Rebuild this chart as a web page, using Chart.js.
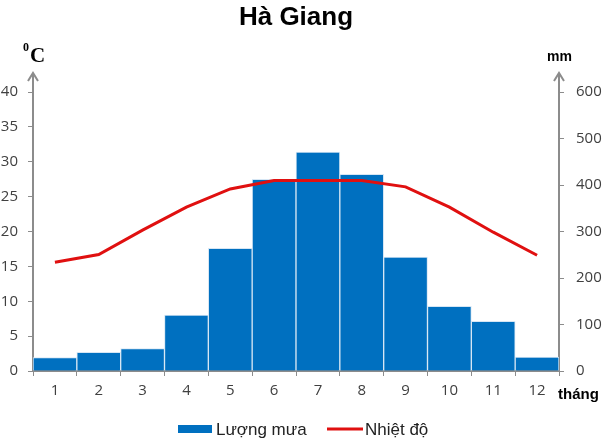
<!DOCTYPE html>
<html>
<head>
<meta charset="utf-8">
<script src="https://cdn.jsdelivr.net/npm/chart.js@4.4.0/dist/chart.umd.min.js"></script>
<style>
  html, body { margin: 0; padding: 0; background: #fff; }
  #wrap { width: 603px; height: 439px; position: relative; }
</style>
</head>
<body>
<div id="wrap"><canvas id="myChart" width="603" height="439"></canvas></div>
<script>
// du lieu doc tu hinh
const thang = ["1", "2", "3", "4", "5", "6", "7", "8", "9", "10", "11", "12"];
const luongMua = [29, 40, 48, 120, 264, 412, 471, 423, 245, 139, 107, 30];
const nhietDo = [15.6, 16.7, 20.2, 23.5, 26.1, 27.3, 27.3, 27.3, 26.4, 23.5, 19.9, 16.6];
const tickNhiet = [0, 5, 10, 15, 20, 25, 30, 35, 40];
const tickMua = [0, 100, 200, 300, 400, 500, 600];

const mauCot = "#0070C0";
const mauDuong = "#E01010";
const mauTruc = "#8c8c8c";
const mauChu = "#404040";
const font = "'Open Sans', 'Liberation Sans', sans-serif";

// ve tieu de, don vi, mui ten va chu thich
const trangTri = {
  id: "trangTri",
  afterDraw(chart) {
    const ctx = chart.ctx;
    const a = chart.chartArea;
    ctx.save();
    ctx.fillStyle = "#000";
    ctx.textAlign = "center";
    ctx.textBaseline = "alphabetic";
    ctx.font = "bold 26px 'Liberation Sans', Arial, sans-serif";
    ctx.fillText("Hà Giang", 296, 25);

    // don vi
    ctx.textAlign = "left";
    ctx.font = "bold 12px 'Liberation Serif', serif";
    ctx.fillText("0", 23, 51);
    ctx.font = "bold 21px 'Liberation Serif', serif";
    ctx.fillText("C", 30, 62);
    ctx.font = "bold 14px 'Liberation Sans', sans-serif";
    ctx.fillText("mm", 547, 61);
    ctx.font = "bold 15px 'Liberation Sans', sans-serif";
    ctx.fillText("tháng", 558, 399);

    // mui ten tren truc
    ctx.strokeStyle = mauTruc;
    ctx.lineWidth = 2;
    [a.left, a.right].forEach((x) => {
      ctx.beginPath();
      ctx.moveTo(x, a.top);
      ctx.lineTo(x, 73);
      ctx.stroke();
      ctx.beginPath();
      ctx.moveTo(x - 5, 81);
      ctx.lineTo(x, 73);
      ctx.lineTo(x + 5, 81);
      ctx.stroke();
    });

    // chu thich
    ctx.fillStyle = mauCot;
    ctx.fillRect(178, 425, 34, 8);
    ctx.strokeStyle = mauDuong;
    ctx.lineWidth = 3;
    ctx.beginPath();
    ctx.moveTo(327, 429);
    ctx.lineTo(363, 429);
    ctx.stroke();
    ctx.fillStyle = "#222";
    ctx.font = "17px 'Liberation Sans', Arial, sans-serif";
    ctx.textBaseline = "middle";
    ctx.fillText("Lượng mưa", 216, 430);
    ctx.fillText("Nhiệt độ", 365, 430);
    ctx.restore();
  },
};

const ctx = document.getElementById("myChart").getContext("2d");
new Chart(ctx, {
  data: {
    labels: thang,
    datasets: [
      {
        type: "bar",
        label: "Lượng mưa",
        data: luongMua,
        yAxisID: "y1",
        backgroundColor: mauCot,
        borderColor: "#d6e6f4",
        borderWidth: 1,
        categoryPercentage: 1,
        barPercentage: 1,
        order: 2,
      },
      {
        type: "line",
        label: "Nhiệt độ",
        data: nhietDo,
        yAxisID: "y",
        borderColor: mauDuong,
        borderWidth: 3,
        pointRadius: 0,
        tension: 0,
        order: 1,
      },
    ],
  },
  options: {
    responsive: false,
    animation: false,
    layout: { padding: { top: 92, left: 0, right: 0, bottom: 0 } },
    plugins: { legend: { display: false }, tooltip: { enabled: false } },
    scales: {
      x: {
        grid: { offset: true, drawOnChartArea: false, tickLength: 5, color: mauTruc },
        border: { color: mauTruc, width: 2 },
        ticks: { color: mauChu, font: { size: 15, family: font }, padding: 6 },
        afterFit: (s) => { s.height = 68; },
      },
      y: {
        position: "left",
        min: 0,
        max: 40,
        afterBuildTicks: (s) => { s.ticks = tickNhiet.map((v) => ({ value: v })); },
        grid: { drawOnChartArea: false, tickLength: 5, color: mauTruc },
        border: { color: mauTruc, width: 2 },
        ticks: { color: mauChu, font: { size: 15, family: font }, padding: 10 },
        afterFit: (s) => { s.width = 33; },
      },
      y1: {
        position: "right",
        min: 0,
        max: 600,
        afterBuildTicks: (s) => { s.ticks = tickMua.map((v) => ({ value: v })); },
        grid: { drawOnChartArea: false, tickLength: 5, color: mauTruc },
        border: { color: mauTruc, width: 2 },
        ticks: { color: mauChu, font: { size: 15, family: font }, padding: 12 },
        afterFit: (s) => { s.width = 44; },
      },
    },
  },
  plugins: [trangTri],
});
</script>
</body>
</html>
